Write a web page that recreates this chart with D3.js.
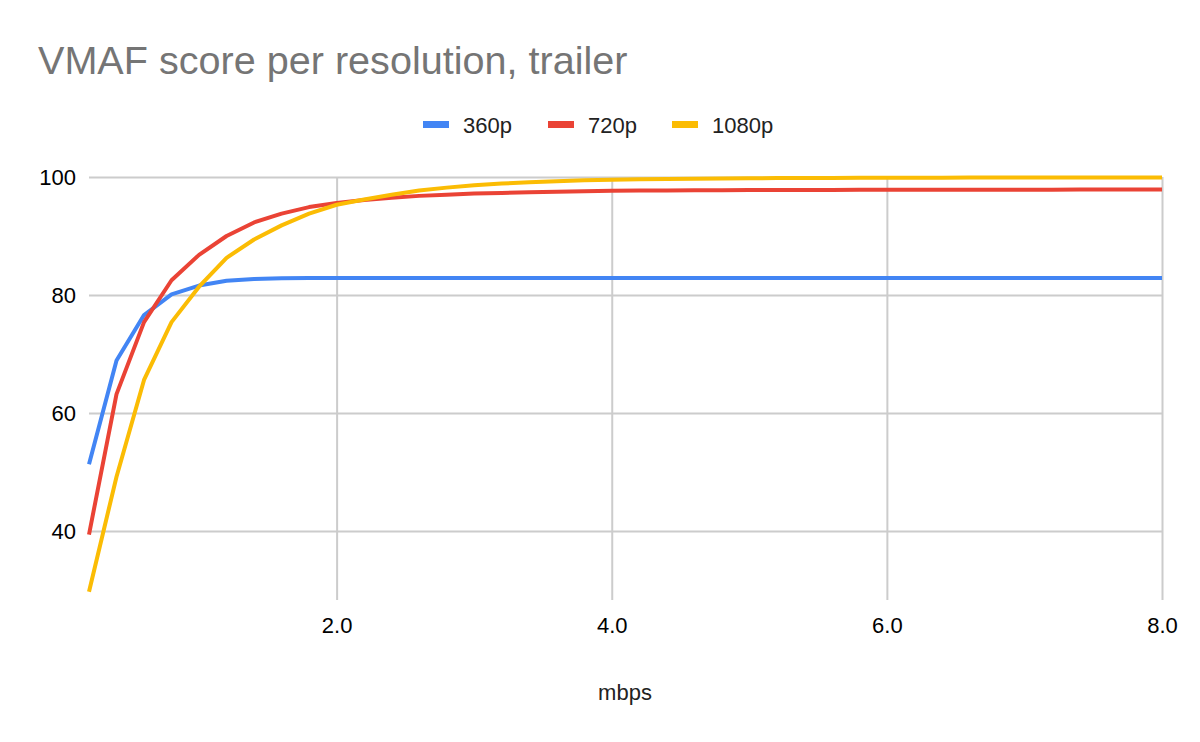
<!DOCTYPE html>
<html>
<head>
<meta charset="utf-8">
<script src="https://cdn.jsdelivr.net/npm/d3@7"></script>
<style>
  body { margin: 0; background: #fff; }
  text { font-family: "Liberation Sans", Arial, sans-serif; }
</style>
</head>
<body>
<div id="line_chart"></div>
<script>
var mbps = [0.2, 0.4, 0.6, 0.8, 1.0, 1.2, 1.4, 1.6, 1.8, 2.0,
            2.2, 2.4, 2.6, 2.8, 3.0, 3.2, 3.4, 3.6, 3.8, 4.0,
            4.2, 4.4, 4.6, 4.8, 5.0, 5.2, 5.4, 5.6, 5.8, 6.0,
            6.2, 6.4, 6.6, 6.8, 7.0, 7.2, 7.4, 7.6, 7.8, 8.0];

var vmaf360 = [51.3, 68.9, 76.6, 80.1, 81.6, 82.4, 82.7, 82.85, 82.9, 82.9,
               82.9, 82.9, 82.9, 82.9, 82.9, 82.9, 82.9, 82.9, 82.9, 82.9,
               82.9, 82.9, 82.9, 82.9, 82.9, 82.9, 82.9, 82.9, 82.9, 82.9,
               82.9, 82.9, 82.9, 82.9, 82.9, 82.9, 82.9, 82.9, 82.9, 82.9];

var vmaf720 = [39.4, 63.2, 75.4, 82.5, 86.8, 90.0, 92.3, 93.8, 94.9, 95.6,
               96.1, 96.5, 96.8, 97.0, 97.2, 97.3, 97.4, 97.5, 97.6, 97.65,
               97.7, 97.72, 97.74, 97.76, 97.78, 97.79, 97.8, 97.81, 97.82, 97.83,
               97.84, 97.84, 97.85, 97.85, 97.86, 97.86, 97.87, 97.87, 97.88, 97.88];

var vmaf1080 = [29.7, 49.2, 65.6, 75.4, 81.4, 86.3, 89.4, 91.8, 93.8, 95.3,
                96.2, 97.0, 97.7, 98.2, 98.6, 98.9, 99.1, 99.3, 99.45, 99.55,
                99.62, 99.68, 99.72, 99.76, 99.79, 99.81, 99.83, 99.85, 99.86, 99.87,
                99.88, 99.89, 99.9, 99.9, 99.91, 99.91, 99.92, 99.92, 99.93, 99.93];

var seriesNames = ["360p", "720p", "1080p"];
var xTicks = [2, 4, 6, 8];
var yTicks = [40, 60, 80, 100];

function lineChart(id) {
    var width = 1200, height = 742;
    var left = 89, right = 1162, top = 177, bottom = 600;
    var font = "'Liberation Sans', Arial, sans-serif";

    var svg = d3.select("#" + id)
        .append("svg")
        .attr("width", width)
        .attr("height", height);

    var x = d3.scaleLinear().domain([0.2, 8.0]).range([left, right]);
    var y = d3.scaleLinear().domain([28.3, 100]).range([bottom, top]);

    var colors = ["#4285F4", "#EA4335", "#FBBC04"];
    var series = [vmaf360, vmaf720, vmaf1080];

    // gridlines + tick labels
    var yAxis = svg.append("g")
        .attr("transform", "translate(" + left + ",0)")
        .call(d3.axisLeft(y).tickValues(yTicks).tickSize(-(right - left)).tickPadding(13));
    yAxis.select(".domain").remove();
    yAxis.selectAll("line").attr("stroke", "#cccccc").attr("stroke-width", 2);
    yAxis.selectAll("text").attr("font-size", 22).attr("fill", "#000")
        .attr("font-family", font);

    var xAxis = svg.append("g")
        .attr("transform", "translate(0," + bottom + ")")
        .call(d3.axisBottom(x).tickValues(xTicks).tickSize(-(bottom - top)).tickPadding(17)
            .tickFormat(d3.format(".1f")));
    xAxis.select(".domain").remove();
    xAxis.selectAll("line").attr("stroke", "#cccccc").attr("stroke-width", 2);
    xAxis.selectAll("text").attr("font-size", 22).attr("fill", "#000")
        .attr("font-family", font);

    var line = d3.line()
        .x(function (d, i) { return x(mbps[i]); })
        .y(function (d) { return y(d); });

    series.forEach(function (data, i) {
        svg.append("path")
            .datum(data)
            .attr("fill", "none")
            .attr("stroke", colors[i])
            .attr("stroke-width", 4)
            .attr("stroke-linejoin", "round")
            .attr("d", line);
    });

    // title
    svg.append("text")
        .attr("x", 38)
        .attr("y", 74)
        .attr("font-size", 39.6)
        .attr("font-family", font)
        .attr("fill", "#757575")
        .text("VMAF score per resolution, trailer");

    // axis title
    svg.append("text")
        .attr("x", 625)
        .attr("y", 700)
        .attr("text-anchor", "middle")
        .attr("font-size", 22)
        .attr("font-family", font)
        .attr("fill", "#222")
        .text("mbps");

    // legend
    var legendX = [423, 548, 672];
    var legend = svg.append("g");
    seriesNames.forEach(function (name, i) {
        legend.append("rect")
            .attr("x", legendX[i])
            .attr("y", 121)
            .attr("width", 26)
            .attr("height", 7)
            .attr("fill", colors[i]);
        legend.append("text")
            .attr("x", legendX[i] + 40)
            .attr("y", 133)
            .attr("font-size", 22)
            .attr("font-family", font)
            .attr("fill", "#222")
            .text(name);
    });
}

lineChart("line_chart");
</script>
</body>
</html>
